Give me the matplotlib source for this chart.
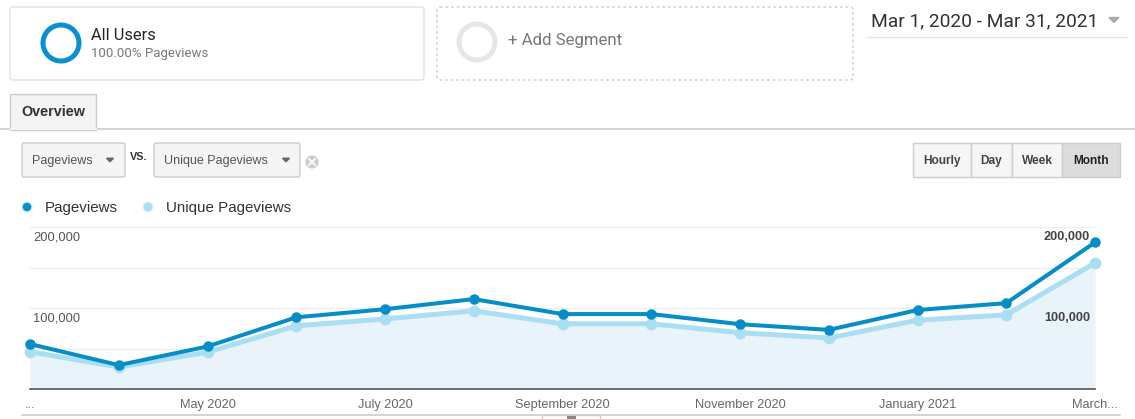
import matplotlib.pyplot as plt
from matplotlib.patches import FancyBboxPatch, Circle, Rectangle, Polygon

# monthly values, Mar 2020 .. Mar 2021
months = ['Mar 2020', 'Apr 2020', 'May 2020', 'Jun 2020', 'Jul 2020', 'Aug 2020', 'Sep 2020',
          'Oct 2020', 'Nov 2020', 'Dec 2020', 'Jan 2021', 'Feb 2021', 'Mar 2021']
pageviews = [55500, 29500, 52500, 88500, 98500, 111000, 92500, 92500, 80000, 73000, 97500, 106000, 181000]
unique_pageviews = [46000, 27000, 45500, 78000, 86500, 96500, 80500, 80500, 69500, 63000, 85000, 91500, 155500]

tick_pos = [0, 2, 4, 6, 8, 10, 12]
tick_labels = ['...', 'May 2020', 'July 2020', 'September 2020', 'November 2020', 'January 2021', 'March...']
grid_vals = [0, 50000, 100000, 150000, 200000]
axis_vals = [100000, 200000]
axis_labels = ['100,000', '200,000']

DARK = '#058dc7'
LIGHT = '#aadff3'
FILL = '#e9f3fa'
W, H = 1135, 419

fig = plt.figure(figsize=(W / 100, H / 100), dpi=100)
plt.rcParams['font.family'] = ['Liberation Sans', 'DejaVu Sans']

# page furniture, drawn in pixel coordinates
ui = fig.add_axes([0, 0, 1, 1])
ui.set_xlim(0, W)
ui.set_ylim(H, 0)
ui.axis('off')


def box(x0, y0, x1, y1, fc='white', ec='#dddddd', ls='-', r=3, lw=1):
    ui.add_patch(FancyBboxPatch((x0, y0), x1 - x0, y1 - y0,
                                boxstyle='round,pad=0,rounding_size=%s' % r,
                                fc=fc, ec=ec, ls=ls, lw=lw))


def caret(x, y, c='#666666', s=4):
    ui.add_patch(Polygon([(x - s, y - s / 2), (x + s, y - s / 2), (x, y + s / 2)], closed=True, color=c))


# segment cards
box(10, 7, 424, 80, ec='#e0e0e0')
ui.add_patch(Circle((61, 43), 18, fill=False, ec='#0a8fd0', lw=3.6))
ui.text(91, 35, 'All Users', fontsize=11.8, color='#222222', va='center', family='Roboto')
ui.text(91, 53, '100.00% Pageviews', fontsize=9.5, color='#777777', va='center', family='Roboto')

box(437, 7, 853, 80, ec='#cccccc', ls=(0, (2, 2)))
ui.add_patch(Circle((477, 42), 18, fill=False, ec='#e6e6e6', lw=3.6))
ui.text(508, 41, '+ Add Segment', fontsize=12.1, color='#777777', va='center', family='Roboto')

# date range
ui.text(871, 21, 'Mar 1, 2020 - Mar 31, 2021', fontsize=13.8, color='#333333', va='center', family='Roboto')
caret(1114, 20, c='#aaaaaa', s=5)
ui.plot([866, 1127], [37, 37], color='#e4e4e4', lw=1)

# tab strip
ui.plot([0, W], [129, 129], color='#cccccc', lw=1.2)
ui.add_patch(Rectangle((10, 94), 86, 36, fc='#f4f4f4', ec='#cccccc', lw=1, zorder=3))
ui.plot([10.5, 95.5], [129.5, 129.5], color='#f4f4f4', lw=1.5, zorder=4)
ui.text(21, 112, 'Overview', fontsize=10.4, fontweight='bold', color='#333333', va='center', zorder=5)

# metric pickers
box(22, 143, 125, 177, fc='#f4f4f4', ec='#cccccc', r=2)
ui.text(32, 161, 'Pageviews', fontsize=9, color='#555555', va='center')
caret(110, 160, s=3.5)
ui.text(130, 157, 'VS.', fontsize=7.8, fontweight='bold', color='#333333', va='center')
box(154, 143, 300, 177, fc='#f4f4f4', ec='#cccccc', r=2)
ui.text(164, 161, 'Unique Pageviews', fontsize=9, color='#555555', va='center')
caret(286, 160, s=3.5)
ui.add_patch(Circle((312, 162), 6.5, fc='#cccccc', ec='none'))
ui.plot([309, 315], [159, 165], color='white', lw=1.3)
ui.plot([309, 315], [165, 159], color='white', lw=1.3)

# granularity buttons
for x0, x1, lab, on in [(913, 971, 'Hourly', False), (971, 1012, 'Day', False),
                        (1012, 1062, 'Week', False), (1062, 1120, 'Month', True)]:
    ui.add_patch(Rectangle((x0, 143), x1 - x0, 34, fc='#dcdcdc' if on else '#f6f6f6', ec='#cccccc', lw=1))
    ui.text((x0 + x1) / 2, 161, lab, fontsize=8.6, fontweight='bold',
            color='#222222' if on else '#444444', ha='center', va='center')

# legend
ui.add_patch(Circle((27, 207), 5, fc=DARK, ec='#d7ecf6', lw=1))
ui.text(45, 208, 'Pageviews', fontsize=10.9, color='#333333', va='center')
ui.add_patch(Circle((148, 207), 5, fc=LIGHT, ec='#e3f3fa', lw=1))
ui.text(166, 208, 'Unique Pageviews', fontsize=10.9, color='#333333', va='center')

# bottom strip
ui.plot([22, 1120], [415, 415], color='#cccccc', lw=1.2)
ui.add_patch(Rectangle((542, 415), 58, 6, fc='white', ec='#cccccc', lw=1))
ui.add_patch(Rectangle((567, 416), 9, 3, fc='#888888', ec='none'))

# the chart itself
x0, x1, yb, yt = 30, 1095, 389, 227
ax = fig.add_axes([x0 / W, (H - yb) / H, (x1 - x0) / W, (yb - yt) / H])
ax.patch.set_alpha(0)
idx = list(range(len(months)))
ax.set_xlim(0, len(months) - 1)
ax.set_ylim(0, 200000)

ax.fill_between(idx, unique_pageviews, 0, color=FILL, lw=0, zorder=1)
ax.plot(idx, unique_pageviews, color=LIGHT, lw=3.6, marker='o', ms=7.5, clip_on=False, zorder=3)
ax.plot(idx, pageviews, color=DARK, lw=2.9, marker='o', ms=6.5, clip_on=False, zorder=4)

ax.set_yticks(grid_vals)
ax.grid(axis='y', color='#eeeeee', lw=1)
ax.set_axisbelow(True)
ax.tick_params(axis='y', length=0, labelleft=False)
ax.set_xticks(tick_pos)
ax.set_xticklabels(tick_labels, fontsize=9.2, color='#666666')
ax.tick_params(axis='x', length=0, pad=7)
for s in ['top', 'left', 'right']:
    ax.spines[s].set_visible(False)
ax.spines['bottom'].set_color('#555555')
ax.spines['bottom'].set_linewidth(1.2)

for v, lab in zip(axis_vals, axis_labels):
    ax.annotate(lab, xy=(0, v), xycoords=('axes fraction', 'data'), xytext=(3, -10),
                textcoords='offset pixels', fontsize=9.3, color='#555555', va='center', ha='left')
    ax.annotate(lab, xy=(1, v), xycoords=('axes fraction', 'data'), xytext=(-5, -10),
                textcoords='offset pixels', fontsize=9.2, fontweight='bold', color='#444444',
                va='center', ha='right', zorder=6)

fig.savefig('out.png', dpi=100)
